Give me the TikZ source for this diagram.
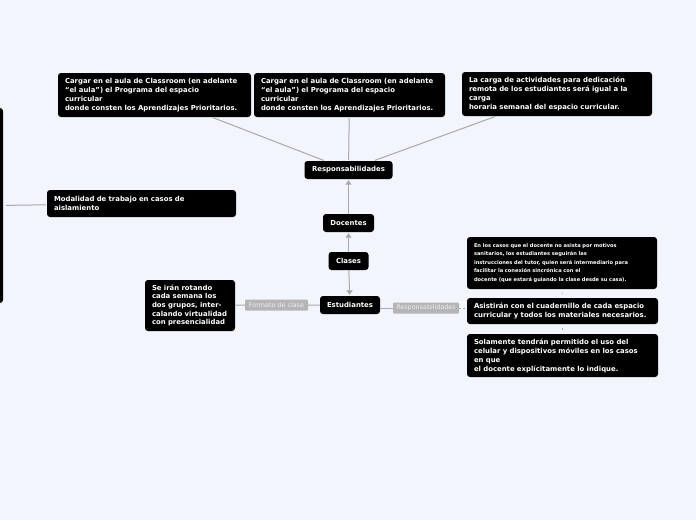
\documentclass[tikz,border=0pt]{standalone}
\usepackage{fontspec}
\setmainfont{DejaVu Sans}
\usepackage{tikz}
\usetikzlibrary{arrows.meta,positioning}
\definecolor{paper}{HTML}{F2F5FD}
\definecolor{edge}{HTML}{A9A9A9}
\definecolor{tagfill}{HTML}{B5B5B5}
\definecolor{tagtext}{HTML}{EEEEEE}
\begin{document}
\begin{tikzpicture}[x=1pt,y=-1pt,
  card/.style={fill=black,rounded corners=3pt,text=white,align=left,font=\bfseries\fontsize{6.9}{9}\selectfont,inner xsep=7pt,inner ysep=3pt},
  topic/.style={fill=black,rounded corners=3pt,text=white,font=\bfseries\fontsize{6.9}{8}\selectfont,minimum height=18pt,inner xsep=0pt},
  tag/.style={fill=tagfill,rounded corners=1pt,text=tagtext,font=\fontsize{6.4}{7}\selectfont,inner xsep=0pt,inner ysep=0pt,minimum height=11pt},
  link/.style={edge,line width=1pt},
  arr/.style={link,-{Triangle[width=6pt,length=4.5pt]},shorten >=1pt}]
\fill[paper] (0,0) rectangle (696,520);
\useasboundingbox (0,0) rectangle (696,520);
\node[fill=black,rounded corners=3pt,minimum width=14pt,minimum height=195pt,inner sep=0pt] (bar) at (-4,205.5) {};
\node[card,text width=175pt,minimum height=27pt] (modal) at (141.5,203.5) {Modalidad de trabajo en casos de\\aislamiento};
\node[card,text width=179pt,minimum height=44pt] (cargaA) at (154.5,95) {Cargar en el aula de Classroom (en adelante\\“el aula”) el Programa del espacio\\curricular\\donde consten los Aprendizajes Prioritarios.};
\node[card,text width=177pt,minimum height=44pt] (cargaB) at (349.5,95) {Cargar en el aula de Classroom (en adelante\\“el aula”) el Programa del espacio\\curricular\\donde consten los Aprendizajes Prioritarios.};
\node[card,text width=176pt,minimum height=44pt] (horas) at (557,94) {La carga de actividades para dedicación\\remota de los estudiantes será igual a la\\carga\\horaria semanal del espacio curricular.};
\node[topic,minimum width=88pt] (respD) at (348.5,170) {Responsabilidades};
\node[topic,minimum width=51pt] (docentes) at (348.5,223) {Docentes};
\node[topic,minimum width=40pt] (clases) at (348.5,261) {Clases};
\node[topic,minimum width=60pt] (estud) at (350,305) {Estudiantes};
\node[tag,minimum width=63pt] (formato) at (276.5,305) {Formato de clase};
\node[tag,minimum width=66pt] (respE) at (426,308) {Responsabilidades};
\node[card,text width=76pt,minimum height=51pt,font=\bfseries\fontsize{6.9}{8.7}\selectfont] (rotan) at (190,305.5) {Se irán rotando\\cada semana los\\dos grupos, inter-\\calando virtualidad\\con presencialidad};
\node[card,text width=176pt,minimum height=52pt,font=\bfseries\fontsize{5.1}{8.6}\selectfont] (tutor) at (562,263) {En los casos que el docente no asista por motivos\\sanitarios, los estudiantes seguirán las\\instrucciones del tutor, quien será intermediario para\\facilitar la conexión sincrónica con el\\docente (que estará guiando la clase desde su casa).};
\node[card,text width=177pt,minimum height=26pt] (cuaderno) at (562.5,311) {Asistirán con el cuadernillo de cada espacio\\curricular y todos los materiales necesarios.};
\node[card,text width=177pt,minimum height=43pt] (celular) at (562.5,355.5) {Solamente tendrán permitido el uso del\\celular y dispositivos móviles en los casos\\en que\\el docente explícitamente lo indique.};
\draw[link,shorten <=3pt,shorten >=1pt] (bar) -- (modal);
\draw[link,shorten <=1pt,shorten >=1pt] (respD) -- (cargaA);
\draw[link,shorten <=1pt,shorten >=1pt] (respD) -- (cargaB);
\draw[link,shorten <=1pt,shorten >=1pt] (respD) -- (horas);
\draw[arr] (docentes) -- (respD);
\draw[arr] (clases) -- (docentes);
\draw[arr] (clases) -- (estud);
\draw[link] (estud) -- (formato) (formato) -- (rotan);
\draw[link] (estud.east |- respE) -- (respE);
\draw[link,dashed,dash pattern=on 2pt off 2pt] (respE) -- (cuaderno.west |- respE);
\draw[edge,line width=0.8pt,shorten <=3.5pt,shorten >=3.5pt] (tutor) -- (cuaderno);
\draw[edge,line width=0.8pt,shorten <=3.5pt,shorten >=3.5pt] (cuaderno) -- (celular);
\end{tikzpicture}
\end{document}
